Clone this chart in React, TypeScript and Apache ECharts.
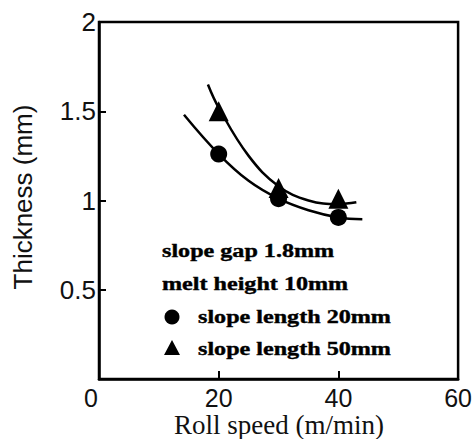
import React, { useEffect, useRef } from "react";
import * as echarts from "echarts";

// Axis ticks
const xTicks = [0, 20, 40, 60];
const yTicks = [0, 0.5, 1, 1.5, 2];

// Measured points (roll speed m/min, thickness mm)
const circleSpeeds = [20, 30, 40];
const circleThickness = [1.26, 1.01, 0.905];
const triangleSpeeds = [20, 30, 40];
const triangleThickness = [1.5, 1.07, 1.01];

// Fitted curves
const circleCurveX = [14.2, 20, 25, 30, 35, 40, 44];
const circleCurveY = [1.48, 1.26, 1.11, 1.01, 0.945, 0.905, 0.895];
const triangleCurveX = [18.2, 20, 25, 30, 35, 40, 43];
const triangleCurveY = [1.65, 1.52, 1.25, 1.08, 1.0, 0.98, 0.99];

const annotations = [
  "slope gap 1.8mm",
  "melt height 10mm",
  "slope length 20mm",
  "slope length 50mm",
];
const xName = "Roll speed (m/min)";
const yName = "Thickness (mm)";

const zip = (a: number[], b: number[]) => a.map((v, i) => [v, b[i]]);

export default function App() {
  const ref = useRef<HTMLDivElement>(null);
  useEffect(() => {
    if (!ref.current) return;
    const chart = echarts.init(ref.current, undefined, { renderer: "svg" });
    const sans = "Liberation Sans, Arial, sans-serif";
    const serif = "Liberation Serif, Times New Roman, serif";
    const boldText = (text: string, x: number, y: number) => ({
      type: "text",
      x,
      y,
      scaleX: 1.27,
      style: {
        text,
        fontFamily: serif,
        fontWeight: "bold",
        fontSize: 19,
        fill: "#000",
        stroke: "#000",
        lineWidth: 0.4,
        align: "left",
        verticalAlign: "middle",
      },
    });
    chart.setOption({
      animation: false,
      backgroundColor: "#fff",
      grid: {
        left: 99,
        top: 22,
        width: 360,
        height: 357,
        show: true,
        borderColor: "#000",
        borderWidth: 2.5,
      },
      xAxis: {
        type: "value",
        min: xTicks[0],
        max: xTicks[xTicks.length - 1],
        interval: 20,
        axisLine: { show: true, lineStyle: { color: "#000", width: 2.5 } },
        axisTick: { show: true, inside: true, length: 8, lineStyle: { color: "#000", width: 2 } },
        splitLine: { show: false },
        axisLabel: {
          fontFamily: sans,
          fontSize: 25,
          lineHeight: 25,
          color: "#111",
          margin: 6,
          formatter: (v: number) => (v === 0 ? "{z|0}" : String(v)),
          rich: { z: { padding: [0, 16, 0, 0], fontFamily: sans, fontSize: 25, lineHeight: 25, color: "#111" } },
        },
      },
      yAxis: {
        type: "value",
        min: yTicks[0],
        max: yTicks[yTicks.length - 1],
        interval: 0.5,
        axisLine: { show: true, lineStyle: { color: "#000", width: 2.5 } },
        axisTick: { show: true, inside: true, length: 7, lineStyle: { color: "#000", width: 2 } },
        splitLine: { show: false },
        axisLabel: {
          fontFamily: sans,
          fontSize: 26,
          color: "#111",
          margin: 3,
          formatter: (v: number) => (v === 0 ? "" : String(v)),
        },
      },
      series: [
        {
          type: "line",
          data: zip(circleCurveX, circleCurveY),
          smooth: 0.4,
          symbol: "none",
          lineStyle: { color: "#000", width: 2.5 },
          z: 2,
        },
        {
          type: "line",
          data: zip(triangleCurveX, triangleCurveY),
          smooth: 0.4,
          symbol: "none",
          lineStyle: { color: "#000", width: 2.5 },
          z: 2,
        },
        {
          type: "scatter",
          data: zip(circleSpeeds, circleThickness),
          symbol: "circle",
          symbolSize: 17,
          itemStyle: { color: "#000", opacity: 1 },
          z: 3,
        },
        {
          type: "scatter",
          data: zip(triangleSpeeds, triangleThickness),
          symbol: "triangle",
          symbolSize: 20,
          itemStyle: { color: "#000", opacity: 1 },
          z: 3,
        },
      ],
      graphic: [
        boldText(annotations[0], 162, 251),
        boldText(annotations[1], 162, 284),
        { type: "circle", shape: { cx: 172, cy: 317, r: 7.5 }, style: { fill: "#000" } },
        boldText(annotations[2], 198, 317),
        {
          type: "polygon",
          shape: { points: [[172, 340], [164, 355], [180, 355]] },
          style: { fill: "#000" },
        },
        boldText(annotations[3], 198, 349),
        {
          type: "text",
          x: 23,
          y: 197,
          rotation: Math.PI / 2,
          style: {
            text: yName,
            fontFamily: sans,
            fontSize: 26,
            fill: "#111",
            align: "center",
            verticalAlign: "middle",
          },
        },
        {
          type: "text",
          x: 279,
          y: 425,
          style: {
            text: xName,
            fontFamily: serif,
            fontSize: 27,
            fill: "#111",
            align: "center",
            verticalAlign: "middle",
          },
        },
      ],
    });
    return () => chart.dispose();
  }, []);
  return (
    <div
      ref={ref}
      style={{ position: "fixed", left: 0, top: 0, width: 475, height: 439, background: "#fff" }}
    />
  );
}
